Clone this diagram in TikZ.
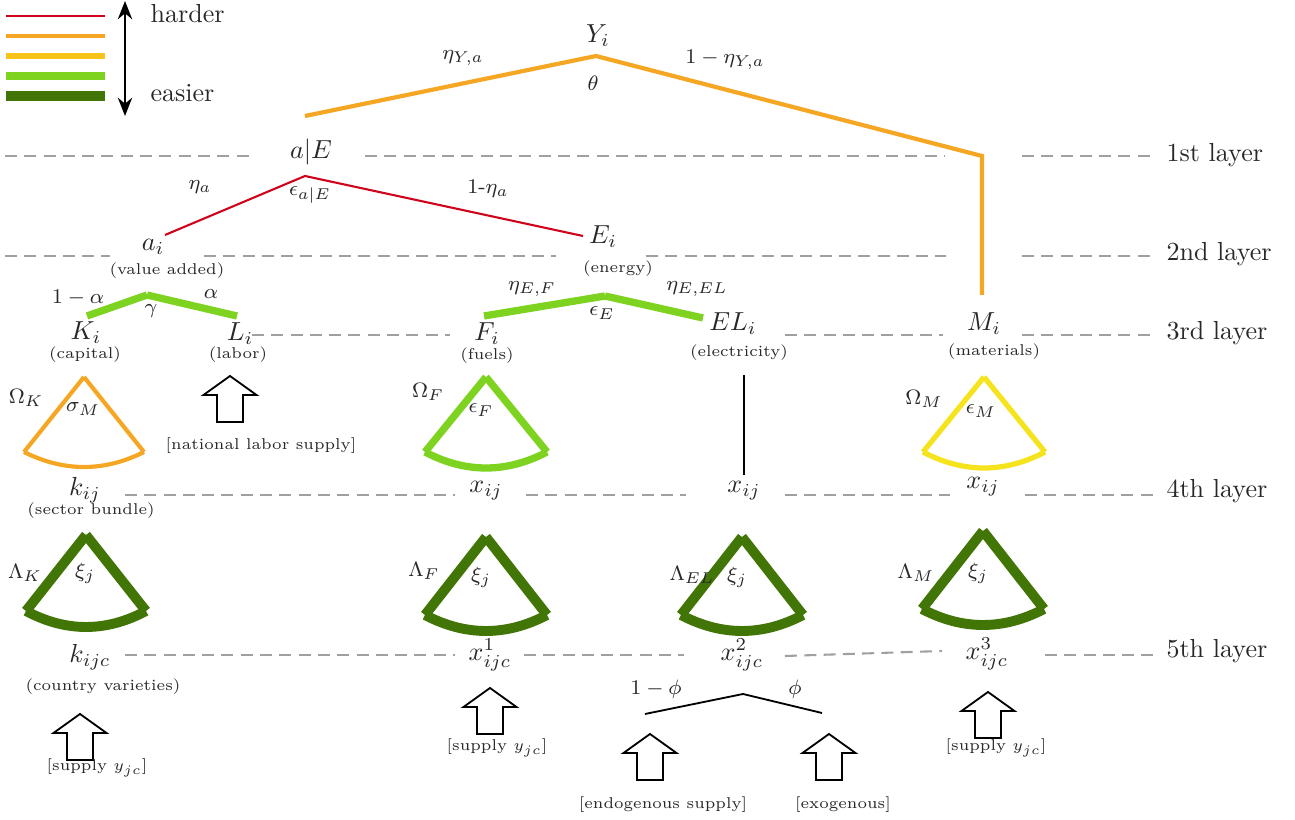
\documentclass[tikz,border=0pt]{standalone}
\usetikzlibrary{arrows.meta,calc}
\definecolor{hred}{RGB}{208,2,27}
\definecolor{horange}{RGB}{245,166,35}
\definecolor{hgold}{RGB}{248,196,28}
\definecolor{hyellow}{RGB}{245,227,30}
\definecolor{hlgreen}{RGB}{126,211,33}
\definecolor{hdgreen}{RGB}{65,117,5}
\definecolor{guidegray}{RGB}{160,160,160}
\definecolor{txtgray}{RGB}{40,40,40}
\newcommand\mycone[7]{% apex x, apex y, half width, height, sag, color, width
  \draw[#6,line width=#7] (#1,#2) -- (#1-#3,#2+#4);
  \draw[#6,line width=#7] (#1,#2) -- (#1+#3,#2+#4);
  \draw[#6,line width=#7] (#1-#3,#2+#4) .. controls (#1-#3/3,#2+#4+4*#5/3) and (#1+#3/3,#2+#4+4*#5/3) .. (#1+#3,#2+#4);
}
\begin{document}
\begin{tikzpicture}[x=0.3835pt,y=-0.3835pt,
  every node/.style={inner sep=0pt,text=txtgray},
  var/.style={font=\normalsize},
  par/.style={font=\footnotesize},
  tinytxt/.style={font=\fontsize{6}{7}\selectfont},
  layerlbl/.style={font=\normalsize,anchor=west},
  guide/.style={guidegray,line width=0.8pt,dash pattern=on 4.6pt off 2.8pt},
  supplyarrow/.pic={\draw[black,line width=0.7pt,fill=white] (0,0) -- (26.5,19) -- (13,19) -- (13,46) -- (-13,46) -- (-13,19) -- (-26.5,19) -- cycle;}
]
\useasboundingbox (0,0) rectangle (1295,820);

% ---------- legend ----------
\draw[hred,line width=0.8pt] (6,16) -- (105,16);
\draw[horange,line width=1.6pt] (6,36) -- (105,36);
\draw[hgold,line width=2.2pt] (6,56) -- (105,56);
\draw[hlgreen,line width=3pt] (6,76) -- (105,76);
\draw[hdgreen,line width=3.5pt] (6,96) -- (105,96);
\coordinate (arrtop) at (125,1);
\coordinate (arrbot) at (125,116);
\draw[black,line width=0.8pt,{Stealth[length=7pt,width=5.5pt]}-{Stealth[length=7pt,width=5.5pt]}] (arrtop) -- (arrbot);
\node[layerlbl] (harder) at (150,14) {harder};
\node[layerlbl] (easier) at (150,93) {easier};

% ---------- layer guides ----------
\draw[guide] (5,156) -- (255,156);
\draw[guide] (365,156) -- (945,156);
\draw[guide] (1022,156) -- (1155,156);
\node[layerlbl] (l1) at (1166,155) {1st layer};

\draw[guide] (5,256) -- (110,256);
\draw[guide] (204,256) -- (556,256);
\draw[guide] (646,256) -- (946,256);
\draw[guide] (1022,256) -- (1155,256);
\node[layerlbl] (l2) at (1166,254) {2nd layer};

\draw[guide] (252,335) -- (450,335);
\draw[guide] (785,335) -- (943,335);
\draw[guide] (1022,335) -- (1155,335);
\node[layerlbl] (l3) at (1166,333) {3rd layer};

\draw[guide] (125,495) -- (455,495);
\draw[guide] (526,495) -- (686,495);
\draw[guide] (785,495) -- (950,495);
\draw[guide] (1025,495) -- (1155,495);
\node[layerlbl] (l4) at (1166,491) {4th layer};

\draw[guide] (125,655) -- (455,655);
\draw[guide] (524,655) -- (684,655);
\draw[guide] (785,656) -- (942,651);
\draw[guide] (1045,655) -- (1155,655);
\node[layerlbl] (l5) at (1166,651) {5th layer};

% ---------- top nest ----------
\node[var] (Yi) at (598,36) {$Y_i$};
\coordinate (yl) at (305,116);
\coordinate (yt) at (596,56);
\coordinate (yr) at (982,156);
\coordinate (yb) at (982,295);
\draw[horange,line width=1.6pt] (yl) -- (yt) -- (yr) -- (yb);
\node[par] (etaYa) at (463,58) {$\eta_{Y,a}$};
\node[par] (theta) at (593,83) {$\theta$};
\node[par] (etaYa2) at (725,60) {$1-\eta_{Y,a}$};

% ---------- a|E nest ----------
\node[var] (aE) at (311,152) {$a|E$};
\coordinate (rl) at (165,235);
\coordinate (rt) at (305,176);
\coordinate (rr) at (583,236);
\draw[hred,line width=0.8pt] (rl) -- (rt) -- (rr);
\node[par] (etaa) at (200,187) {$\eta_a$};
\node[par] (epsaE) at (310,195) {$\epsilon_{a|E}$};
\node[par] (etaa2) at (488,189) {1-$\eta_a$};

\node[var] (ai) at (153,247) {$a_i$};
\node[tinytxt] (ailab) at (167,271) {(value added)};
\node[var] (Ei) at (603,237) {$E_i$};
\node[tinytxt] (Eilab) at (618,269) {(energy)};

% ---------- value added nest ----------
\coordinate (vl) at (87,316);
\coordinate (vt) at (147,295);
\coordinate (vr) at (237,316);
\draw[hlgreen,line width=2.8pt] (vl) -- (vt);
\draw[hlgreen,line width=2.8pt] (vt) -- (vr);
\node[par] (oma) at (78,298) {$1-\alpha$};
\node[par] (alpha) at (211,294) {$\alpha$};
\node[par] (gamma) at (151,311) {$\gamma$};

\node[var] (Ki) at (86,333) {$K_i$};
\node[tinytxt] (Kilab) at (85,355) {(capital)};
\node[var] (Li) at (240,334) {$L_i$};
\node[tinytxt] (Lilab) at (238,355) {(labor)};

% ---------- energy nest ----------
\coordinate (el) at (484,316);
\coordinate (et) at (605,296);
\coordinate (er) at (703,318);
\draw[hlgreen,line width=2.8pt] (el) -- (et);
\draw[hlgreen,line width=2.8pt] (et) -- (er);
\node[par] (etaEF) at (532,289) {$\eta_{E,F}$};
\node[par] (epsE) at (602,313) {$\epsilon_E$};
\node[par] (etaEEL) at (697,289) {$\eta_{E,EL}$};

\node[var] (Fi) at (487,334) {$F_i$};
\node[tinytxt] (Filab) at (487,356) {(fuels)};
\node[var] (ELi) at (733,324) {$EL_i$};
\node[tinytxt] (ELilab) at (739,353) {(electricity)};
\node[var] (Mi) at (984,324) {$M_i$};
\node[tinytxt] (Milab) at (994,352) {(materials)};

% ---------- 4th layer cones ----------
\mycone{84}{377}{60}{75}{15}{horange}{1.6pt}
\node[par] (OmK) at (26,398) {$\Omega_K$};
\node[par] (sigM) at (83,409) {$\sigma_M$};
\pic (supL) at (230,376) {supplyarrow};
\node[tinytxt] (supLlab) at (261,446) {[national labor supply]};

\mycone{486}{377}{61}{75}{16}{hlgreen}{2.8pt}
\node[par] (OmF) at (428,392) {$\Omega_F$};
\node[par] (epsF) at (481,410) {$\epsilon_F$};

\coordinate (elt) at (744,375);
\coordinate (elb) at (744,475);
\draw[black,line width=0.7pt] (elt) -- (elb);

\mycone{984}{377}{61}{75}{16}{hyellow}{2pt}
\node[par] (OmM) at (924,399) {$\Omega_M$};
\node[par] (epsM) at (981,411) {$\epsilon_M$};

\node[var] (kij) at (85,490) {$k_{ij}$};
\node[tinytxt] (kijlab) at (91,511) {(sector bundle)};
\node[var] (xijF) at (486,491) {$x_{ij}$};
\node[var] (xijEL) at (744,491) {$x_{ij}$};
\node[var] (xijM) at (983,487) {$x_{ij}$};

% ---------- 5th layer cones ----------
\mycone{86}{535}{60}{76}{16}{hdgreen}{3.8pt}
\node[par] (LamK) at (25,573) {$\Lambda_K$};
\node[par] (xiK) at (85,573) {$\xi_j$};

\mycone{486}{537}{61}{78}{16}{hdgreen}{3.8pt}
\node[par] (LamF) at (424,571) {$\Lambda_F$};
\node[par] (xiF) at (481,577) {$\xi_j$};

\mycone{742}{537}{61}{78}{16}{hdgreen}{3.8pt}
\node[par] (LamEL) at (692,575) {$\Lambda_{EL}$};
\node[par] (xiEL) at (737,577) {$\xi_j$};

\mycone{983}{531}{61}{78}{16}{hdgreen}{3.8pt}
\node[par] (LamM) at (916,573) {$\Lambda_M$};
\node[par] (xiM) at (978,573) {$\xi_j$};

\node[var] (kijc) at (90,657) {$k_{ijc}$};
\node[tinytxt] (kijclab) at (103,687) {(country varieties)};
\node[var] (x1) at (490,655) {$x^1_{ijc}$};
\node[var] (x2) at (742,655) {$x^2_{ijc}$};
\node[var] (x3) at (987,654) {$x^3_{ijc}$};

% ---------- supplies ----------
\pic (supK) at (80,714) {supplyarrow};
\node[tinytxt] (supKlab) at (97,768) {[supply $y_{jc}$]};
\pic (supF) at (490,688) {supplyarrow};
\node[tinytxt] (supFlab) at (497,748) {[supply $y_{jc}$]};
\pic (supM) at (988,692) {supplyarrow};
\node[tinytxt] (supMlab) at (996,748) {[supply $y_{jc}$]};

\coordinate (pl) at (645,714);
\coordinate (pt) at (743,694);
\coordinate (pr) at (822,713);
\draw[black,line width=0.7pt] (pl) -- (pt) -- (pr);
\node[par] (omphi) at (656,689) {$1-\phi$};
\node[par] (phi) at (795,689) {$\phi$};
\pic (supEn) at (650,734) {supplyarrow};
\node[tinytxt] (supEnlab) at (663,805) {[endogenous supply]};
\pic (supEx) at (829,734) {supplyarrow};
\node[tinytxt] (supExlab) at (843,805) {[exogenous]};
\end{tikzpicture}
\end{document}
